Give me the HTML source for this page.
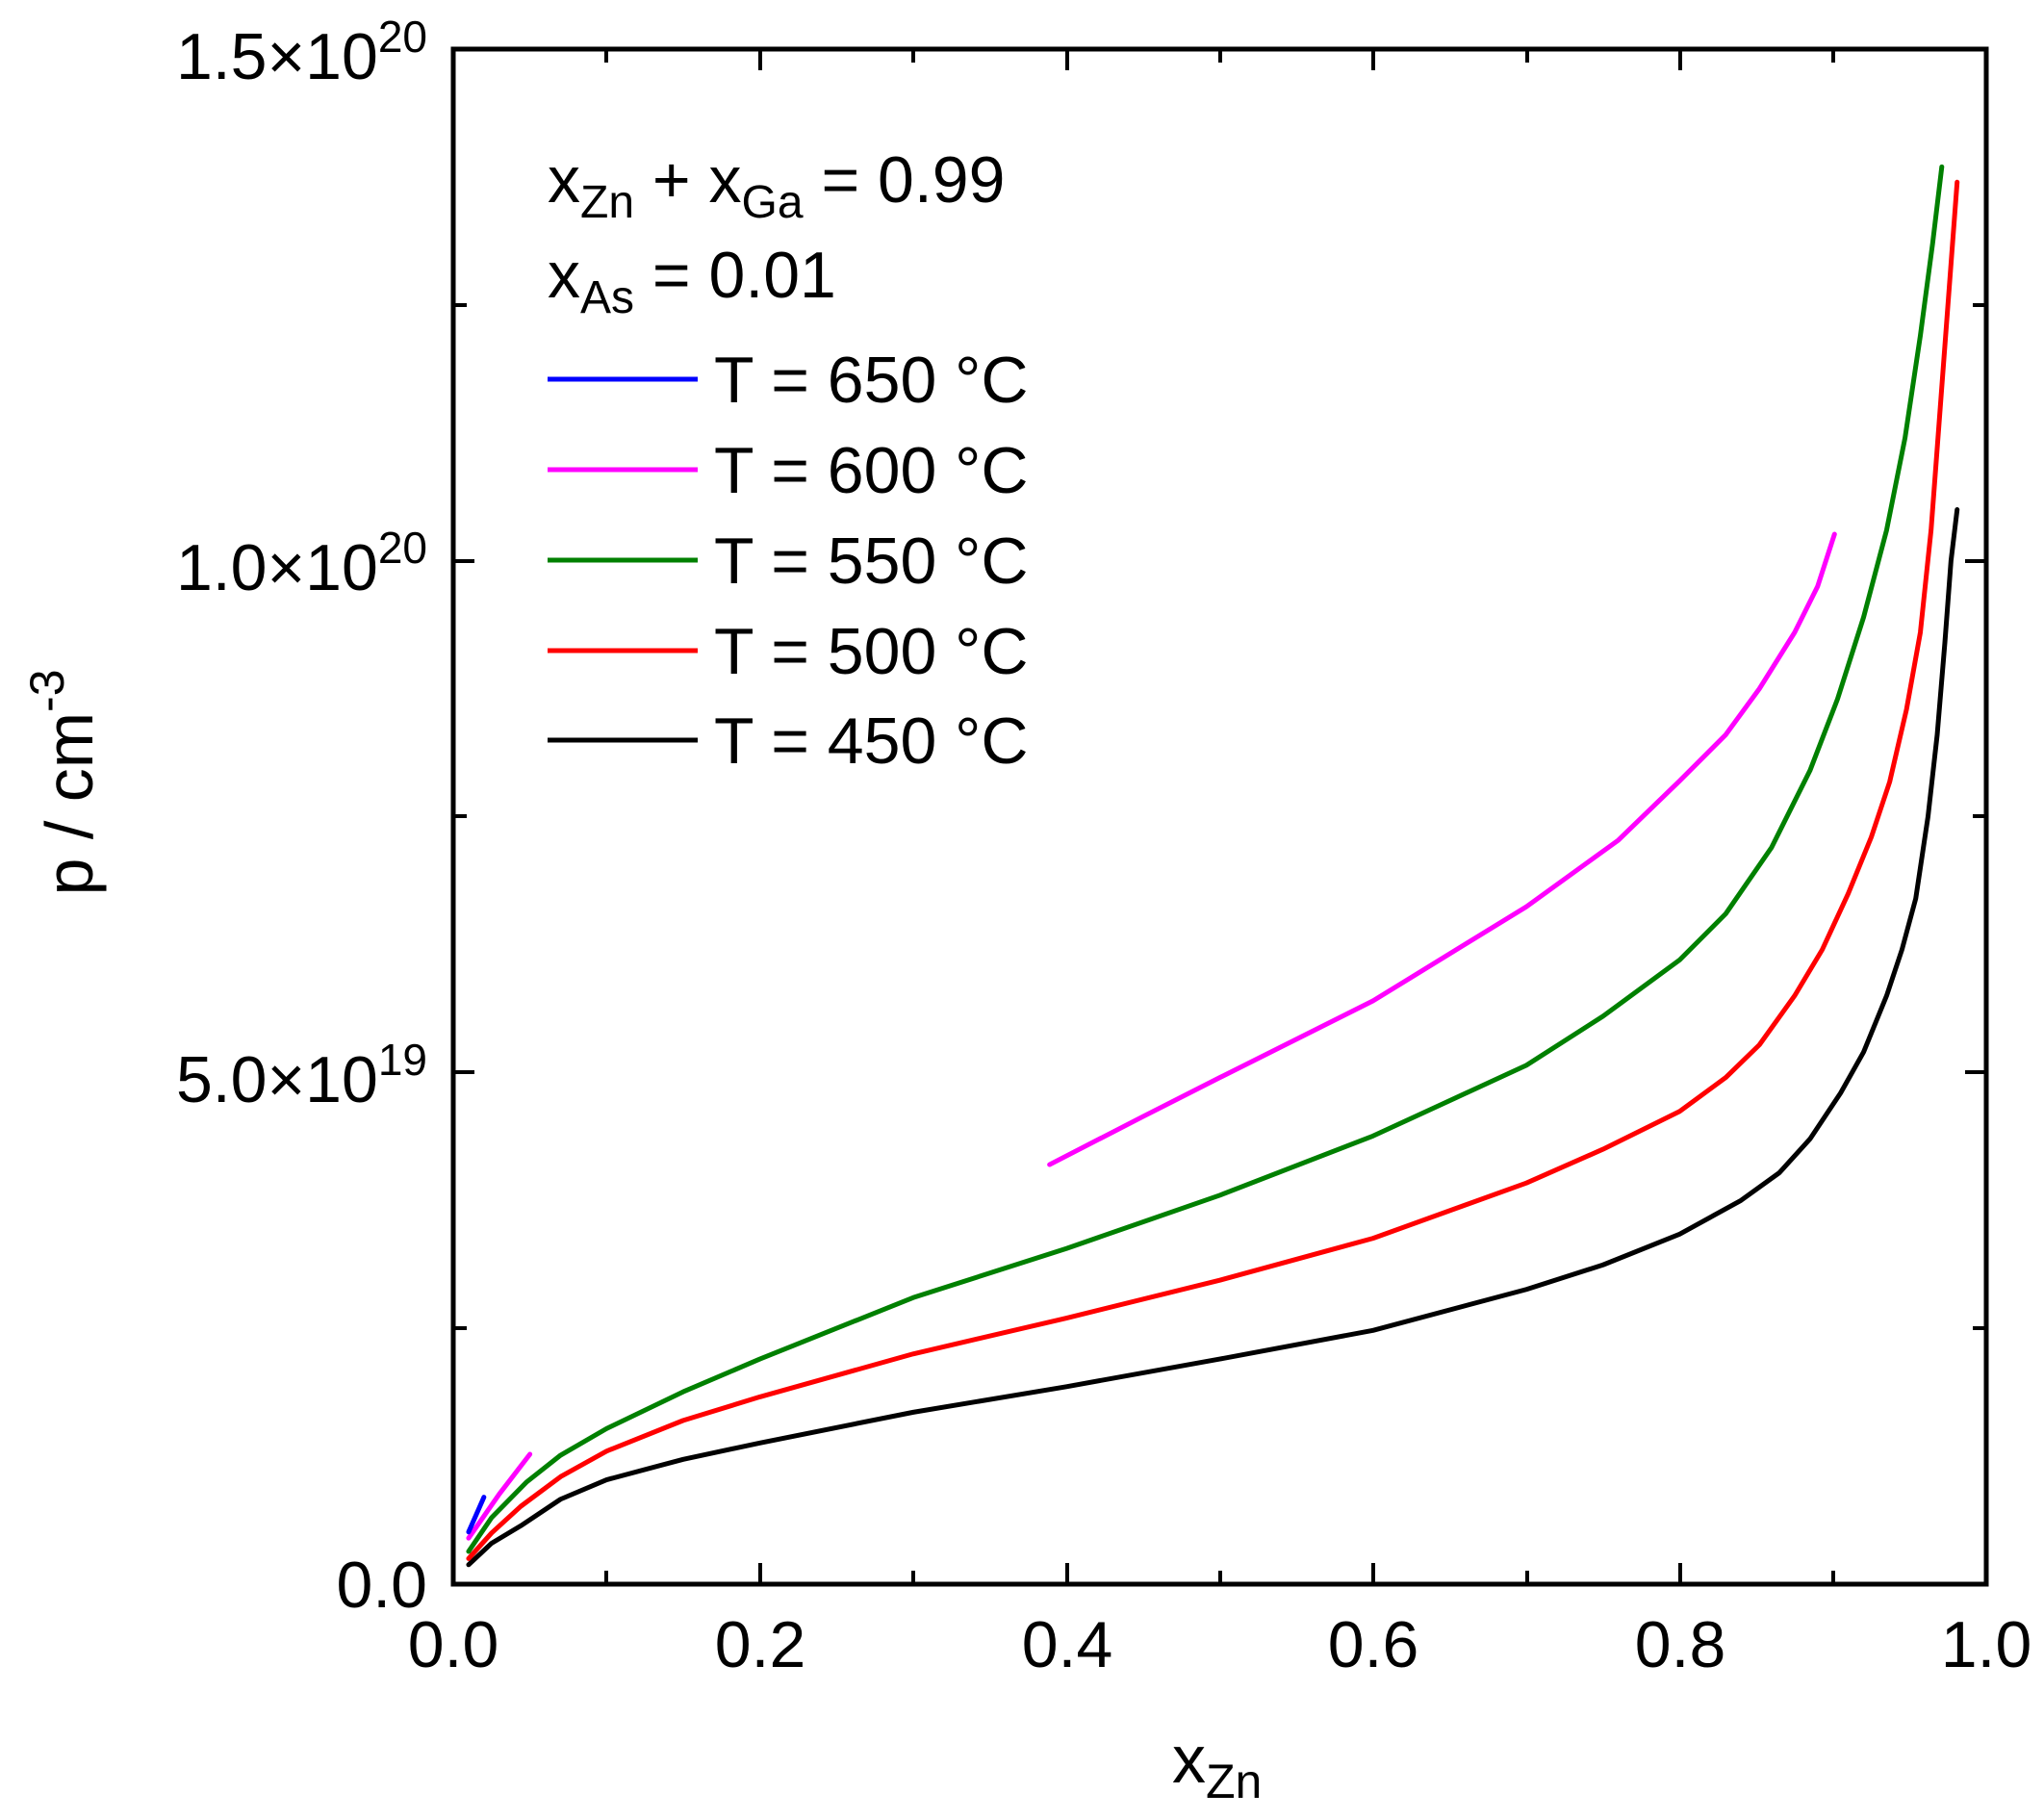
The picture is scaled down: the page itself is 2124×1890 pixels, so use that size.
<!DOCTYPE html>
<html><head><meta charset="utf-8"><style>
body{margin:0;background:#fff}
svg{display:block}
text{font-family:"Liberation Sans",Arial,sans-serif;fill:#000}
</style></head><body>
<svg width="2124" height="1890" viewBox="0 0 2124 1890" xmlns="http://www.w3.org/2000/svg">
<g stroke="#000" stroke-width="4" fill="none">
<path d="M790,1646v-22M1109,1646v-22M1427,1646v-22M1746,1646v-22
M630,1646v-14M949,1646v-14M1268,1646v-14M1587,1646v-14M1905,1646v-14
M790,51v22M1109,51v22M1427,51v22M1746,51v22
M630,51v14M949,51v14M1268,51v14M1587,51v14M1905,51v14
M471,1114h22M471,583h22M471,1380h14M471,848h14M471,317h14
M2064,1114h-22M2064,583h-22M2064,1380h-14M2064,848h-14M2064,317h-14"/>
</g>
<g fill="none" stroke-width="5" stroke-linejoin="round" stroke-linecap="round" transform="matrix(1593 0 0 -106.33 471 1646)">
<polyline vector-effect="non-scaling-stroke" stroke="#000" points="0.01,0.19 0.025,0.4 0.044,0.57 0.07,0.83 0.1,1.02 0.15,1.22 0.2,1.38 0.3,1.68 0.4,1.93 0.5,2.2 0.6,2.48 0.7,2.88 0.75,3.12 0.8,3.42 0.84,3.75 0.865,4.02 0.885,4.35 0.905,4.8 0.92,5.2 0.935,5.75 0.945,6.2 0.954,6.7 0.962,7.5 0.968,8.3 0.973,9.2 0.977,10.0 0.981,10.5"/>
<polyline vector-effect="non-scaling-stroke" stroke="#f00" points="0.01,0.25 0.025,0.5 0.044,0.76 0.07,1.05 0.1,1.3 0.15,1.6 0.2,1.83 0.3,2.25 0.4,2.6 0.5,2.97 0.6,3.38 0.7,3.92 0.75,4.25 0.8,4.62 0.83,4.95 0.852,5.27 0.875,5.75 0.893,6.2 0.91,6.75 0.925,7.3 0.937,7.84 0.948,8.55 0.957,9.3 0.964,10.3 0.97,11.5 0.975,12.5 0.981,13.7"/>
<polyline vector-effect="non-scaling-stroke" stroke="#008000" points="0.01,0.32 0.025,0.65 0.048,1.0 0.07,1.26 0.1,1.52 0.15,1.88 0.2,2.2 0.3,2.8 0.4,3.28 0.5,3.8 0.6,4.38 0.7,5.07 0.75,5.55 0.8,6.1 0.83,6.55 0.86,7.2 0.885,7.95 0.903,8.65 0.92,9.45 0.935,10.3 0.947,11.2 0.957,12.2 0.965,13.1 0.971,13.85"/>
<polyline vector-effect="non-scaling-stroke" stroke="#f0f" points="0.01,0.45 0.03,0.88 0.05,1.27"/>
<polyline vector-effect="non-scaling-stroke" stroke="#f0f" points="0.389,4.10 0.45,4.57 0.5,4.95 0.6,5.7 0.7,6.62 0.76,7.27 0.8,7.85 0.83,8.3 0.852,8.75 0.875,9.3 0.89,9.75 0.901,10.26"/>
<polyline vector-effect="non-scaling-stroke" stroke="#00f" points="0.01,0.51 0.015,0.68 0.02,0.85"/>
</g>
<rect x="471" y="51" width="1593" height="1595" fill="none" stroke="#000" stroke-width="5"/>
<g font-size="68" text-anchor="end">
<text x="444" y="82">1.5×10<tspan font-size="46" dy="-28">20</tspan></text>
<text x="444" y="613">1.0×10<tspan font-size="46" dy="-28">20</tspan></text>
<text x="444" y="1145">5.0×10<tspan font-size="46" dy="-28">19</tspan></text>
<text x="444" y="1670">0.0</text>
</g>
<g font-size="68" text-anchor="middle">
<text x="471" y="1732">0.0</text>
<text x="790" y="1732">0.2</text>
<text x="1109" y="1732">0.4</text>
<text x="1427" y="1732">0.6</text>
<text x="1746" y="1732">0.8</text>
<text x="2064" y="1732">1.0</text>
</g>
<text x="1218" y="1852" font-size="70">x<tspan font-size="50" dy="16">Zn</tspan></text>
<text transform="translate(96,813) rotate(-90)" font-size="70" text-anchor="middle">p / cm<tspan font-size="50" dy="-30">-3</tspan></text>
<g font-size="68">
<text x="569" y="210">x<tspan font-size="48" dy="16">Zn</tspan><tspan dy="-16"> + x</tspan><tspan font-size="48" dy="16">Ga</tspan><tspan dy="-16"> = 0.99</tspan></text>
<text x="569" y="309">x<tspan font-size="48" dy="16">As</tspan><tspan dy="-16"> = 0.01</tspan></text>
<text x="742" y="418">T = 650 °C</text>
<text x="742" y="512">T = 600 °C</text>
<text x="742" y="606">T = 550 °C</text>
<text x="742" y="700">T = 500 °C</text>
<text x="742" y="793">T = 450 °C</text>
</g>
<g stroke-width="5">
<line x1="569" y1="394" x2="725" y2="394" stroke="#00f"/>
<line x1="569" y1="488" x2="725" y2="488" stroke="#f0f"/>
<line x1="569" y1="582" x2="725" y2="582" stroke="#008000"/>
<line x1="569" y1="676" x2="725" y2="676" stroke="#f00"/>
<line x1="569" y1="769" x2="725" y2="769" stroke="#000"/>
</g>
</svg>
</body></html>
